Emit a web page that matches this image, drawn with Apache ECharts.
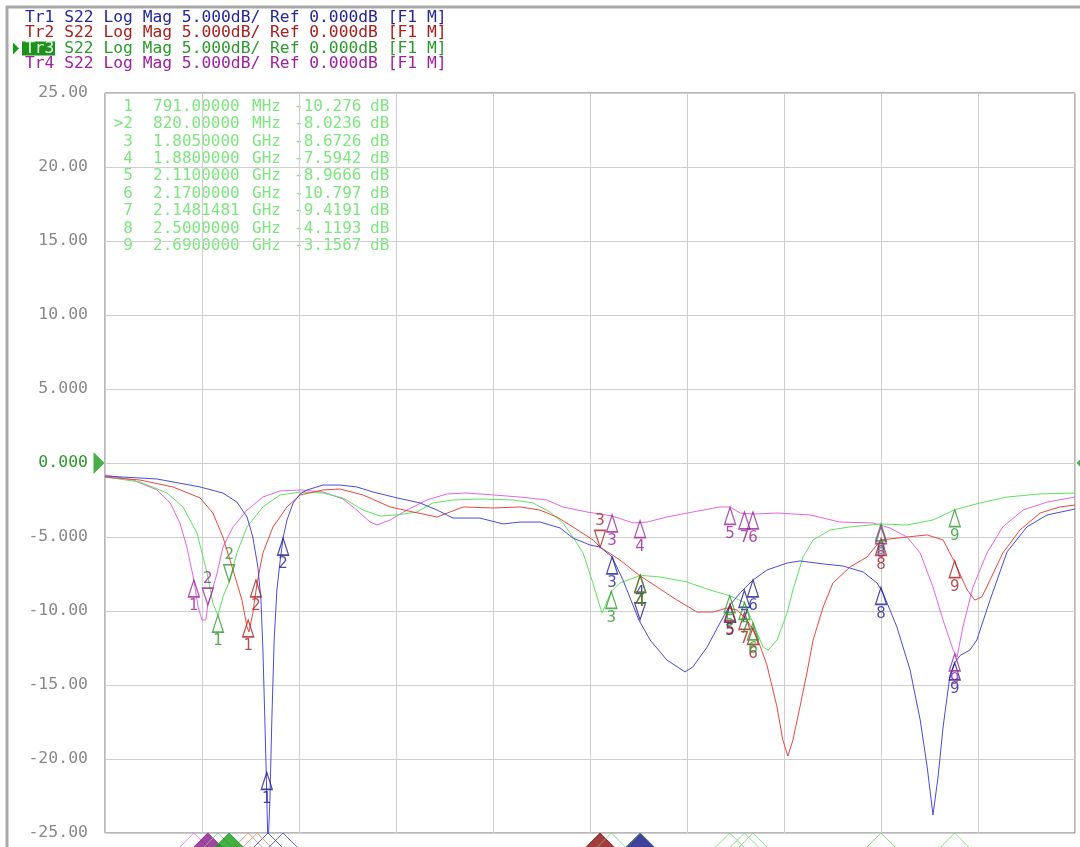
<!DOCTYPE html>
<html><head><meta charset="utf-8">
<script src="https://cdn.jsdelivr.net/npm/echarts@6/dist/echarts.min.js"></script>
<style>html,body{margin:0;padding:0;background:#fff}#c{width:1080px;height:847px}</style>
</head><body><div id="c"></div>
<script>
// ---------- DATA ----------
const yTicks = [-25,-20,-15,-10,-5,0,5,10,15,20,25];
const yTickLabels = ['-25.00','-20.00','-15.00','-10.00','-5.000','0.000','5.000','10.00','15.00','20.00','25.00'];
const headerLines = [
  'Tr1 S22 Log Mag 5.000dB/ Ref 0.000dB [F1 M]',
  'Tr2 S22 Log Mag 5.000dB/ Ref 0.000dB [F1 M]',
  'Tr3 S22 Log Mag 5.000dB/ Ref 0.000dB [F1 M]',
  'Tr4 S22 Log Mag 5.000dB/ Ref 0.000dB [F1 M]'
];
const tableNums  = ['1','>2','3','4','5','6','7','8','9'];
const tableFreqs = ['791.00000','820.00000','1.8050000','1.8800000','2.1100000','2.1700000','2.1481481','2.5000000','2.6900000'];
const tableUnits = ['MHz','MHz','GHz','GHz','GHz','GHz','GHz','GHz','GHz'];
const tableVals  = ['-10.276','-8.0236','-8.6726','-7.5942','-8.9666','-10.797','-9.4191','-4.1193','-3.1567'];

// trace curves [GHz, dB]
const tr1 = [[0.500,-0.88],[0.634,-1.08],[0.745,-1.62],[0.804,-2.03],[0.840,-2.64],[0.866,-3.65],[0.881,-5.00],[0.894,-7.03],[0.902,-9.26],[0.907,-12.64],[0.912,-17.36],[0.916,-21.4],[0.920,-26.0],[0.925,-22.8],[0.930,-17.36],[0.936,-11.96],[0.943,-8.58],[0.951,-6.70],[0.959,-5.07],[0.969,-3.85],[0.985,-2.70],[1.003,-2.09],[1.021,-1.82],[1.062,-1.49],[1.106,-1.49],[1.149,-1.62],[1.191,-1.96],[1.253,-2.36],[1.312,-2.70],[1.356,-3.18],[1.397,-3.72],[1.466,-3.72],[1.526,-4.12],[1.570,-3.99],[1.621,-3.99],[1.673,-4.39],[1.706,-5.07],[1.750,-5.54],[1.776,-5.68],[1.807,-6.35],[1.835,-7.91],[1.876,-10.61],[1.905,-11.96],[1.948,-13.31],[1.995,-14.12],[2.015,-13.78],[2.052,-12.43],[2.085,-10.81],[2.111,-9.59],[2.137,-8.78],[2.170,-7.91],[2.206,-7.23],[2.258,-6.76],[2.291,-6.62],[2.351,-6.82],[2.402,-6.96],[2.454,-7.36],[2.490,-8.11],[2.505,-8.78],[2.541,-11.08],[2.575,-13.99],[2.601,-17.36],[2.619,-20.54],[2.634,-23.78],[2.647,-21.22],[2.660,-17.84],[2.678,-14.30],[2.690,-13.50],[2.704,-13.00],[2.729,-12.64],[2.747,-11.96],[2.781,-9.26],[2.825,-6.00],[2.876,-4.32],[2.928,-3.51],[3.000,-3.11]];
const tr2 = [[0.500,-0.95],[0.590,-1.15],[0.675,-1.62],[0.745,-2.36],[0.778,-3.38],[0.804,-5.00],[0.830,-7.23],[0.853,-9.26],[0.866,-11.08],[0.871,-11.42],[0.881,-10.14],[0.892,-8.11],[0.907,-6.08],[0.933,-4.32],[0.969,-2.97],[1.003,-2.16],[1.062,-1.82],[1.106,-1.76],[1.165,-2.16],[1.235,-2.97],[1.294,-3.31],[1.356,-3.65],[1.389,-3.31],[1.423,-2.97],[1.500,-3.04],[1.570,-2.97],[1.621,-3.18],[1.665,-3.65],[1.706,-4.32],[1.758,-5.20],[1.776,-5.68],[1.827,-6.55],[1.876,-7.57],[1.923,-8.38],[1.974,-9.26],[2.026,-10.07],[2.067,-10.07],[2.103,-9.80],[2.129,-9.93],[2.155,-10.61],[2.180,-11.76],[2.206,-13.65],[2.232,-16.49],[2.247,-18.72],[2.260,-19.80],[2.273,-18.72],[2.291,-16.49],[2.309,-14.19],[2.325,-11.96],[2.351,-9.73],[2.376,-8.11],[2.420,-7.03],[2.464,-6.35],[2.500,-5.20],[2.567,-5.00],[2.619,-4.86],[2.660,-5.20],[2.691,-6.76],[2.722,-8.58],[2.742,-9.26],[2.760,-9.05],[2.781,-7.91],[2.814,-6.08],[2.858,-4.53],[2.910,-3.38],[2.961,-2.97],[3.000,-2.84]];
const tr3 = [[0.500,-0.95],[0.590,-1.28],[0.660,-2.03],[0.701,-2.97],[0.737,-4.73],[0.763,-7.43],[0.778,-9.46],[0.791,-10.28],[0.804,-9.05],[0.820,-8.02],[0.840,-6.08],[0.866,-4.32],[0.907,-2.97],[0.951,-2.16],[1.003,-1.96],[1.062,-2.03],[1.113,-2.36],[1.165,-3.18],[1.209,-3.58],[1.253,-3.51],[1.304,-3.31],[1.345,-2.70],[1.397,-2.50],[1.466,-2.43],[1.552,-2.50],[1.603,-2.70],[1.647,-3.31],[1.680,-4.05],[1.706,-5.00],[1.732,-6.08],[1.755,-7.91],[1.781,-10.14],[1.805,-8.67],[1.827,-8.11],[1.880,-7.59],[1.930,-7.70],[2.000,-8.04],[2.059,-8.58],[2.110,-8.97],[2.148,-9.42],[2.170,-10.80],[2.196,-12.43],[2.209,-12.64],[2.232,-11.96],[2.258,-10.14],[2.273,-8.58],[2.299,-6.35],[2.325,-5.20],[2.369,-4.53],[2.420,-4.32],[2.500,-4.12],[2.567,-4.19],[2.634,-3.85],[2.690,-3.16],[2.755,-2.70],[2.825,-2.30],[2.910,-2.09],[3.000,-2.03]];
const tr4 = [[0.500,-0.81],[0.572,-1.15],[0.634,-1.82],[0.668,-2.70],[0.693,-4.05],[0.711,-5.68],[0.729,-7.91],[0.740,-9.73],[0.750,-10.61],[0.760,-10.61],[0.765,-9.59],[0.771,-9.12],[0.789,-7.43],[0.804,-5.68],[0.830,-4.32],[0.866,-3.18],[0.907,-2.30],[0.951,-1.89],[1.003,-1.82],[1.062,-1.96],[1.113,-2.43],[1.149,-3.18],[1.183,-3.99],[1.201,-4.19],[1.235,-3.85],[1.278,-3.18],[1.330,-2.50],[1.381,-2.09],[1.433,-2.03],[1.500,-2.16],[1.570,-2.30],[1.639,-2.50],[1.680,-2.97],[1.742,-3.31],[1.807,-3.58],[1.861,-4.05],[1.897,-3.99],[1.948,-3.65],[2.015,-3.31],[2.085,-2.97],[2.111,-2.97],[2.137,-3.38],[2.170,-3.45],[2.232,-3.38],[2.317,-3.51],[2.394,-3.99],[2.479,-4.05],[2.523,-4.39],[2.567,-5.00],[2.601,-6.08],[2.634,-8.38],[2.660,-10.61],[2.686,-12.64],[2.696,-13.11],[2.711,-11.08],[2.737,-8.38],[2.773,-6.08],[2.814,-4.32],[2.866,-3.18],[2.928,-2.64],[3.000,-2.30]];

// markers: [GHz, dB, number, active(1 = downward marker)]
const mk1 = [[0.917,-20.9,1,0],[0.959,-5.07,2,0],[1.807,-6.35,3,0],[1.879,-10.6,4,1],[2.111,-9.6,5,0],[2.170,-7.9,6,0],[2.148,-8.6,7,0],[2.500,-8.4,8,0],[2.690,-13.5,9,0]];
const mk2 = [[0.869,-10.6,1,0],[0.889,-7.9,2,0],[1.776,-5.7,3,1],[1.879,-7.6,4,0],[2.111,-9.5,5,0],[2.170,-11.1,6,0],[2.148,-10.1,7,0],[2.500,-5.1,8,0],[2.690,-6.6,9,0]];
const mk3 = [[0.791,-10.276,1,0],[0.820,-8.0236,2,1],[1.805,-8.6726,3,0],[1.880,-7.5942,4,0],[2.110,-8.9666,5,0],[2.170,-10.797,6,0],[2.1481481,-9.4191,7,0],[2.500,-4.1193,8,0],[2.690,-3.1567,9,0]];
const mk4 = [[0.729,-7.9,1,0],[0.765,-9.6,2,1],[1.807,-3.5,3,0],[1.879,-3.9,4,0],[2.111,-3.0,5,0],[2.170,-3.3,6,0],[2.148,-3.3,7,0],[2.500,-4.3,8,0],[2.690,-12.9,9,0]];

// stimulus indicators along bottom edge [GHz, filled]
const stim1 = [[0.920,0],[0.959,0],[1.879,1]];
const stim2 = [[0.869,0],[0.892,0],[1.776,1]];
const stim3 = [[0.791,0],[0.820,1],[1.805,0],[1.880,0],[2.110,0],[2.1481481,0],[2.170,0],[2.500,0],[2.690,0]];
const stim4 = [[0.729,0],[0.765,1]];

// ---------- STYLE ----------
const lineCol = ['#4b4bd6','#e8493e','#5fe35f','#e466e4'];
const mkCol   = ['#1e1e8e','#a82222','#2c9a2c','#992099'];
const hdrCol  = ['#26269c','#aa2020','#2c9a2c','#a020a0'];
const stimOpen = ['#3a3a9a','#e08868','#72d472','#e070e0'];
const stimFill = ['#101085','#8c0c0c','#169a16','#8a168a'];
const MONO = '"DejaVu Sans Mono", "Liberation Mono", monospace';

const UP = 'path://M5,0L10,17L0,17Z';
const DOWN = 'path://M0,0L10,0L5,17Z';

const chart = echarts.init(document.getElementById('c'), null, {renderer:'canvas'});

function markerSeries(mk, i){
  return {
    type:'scatter', z: 5 + i, clip:false, silent:true,
    data: mk.map(m => ({
      value:[m[0], m[1]],
      symbol: m[3] ? DOWN : UP,
      symbolSize:[11,17],
      symbolOffset:[0, m[3] ? -8.5 : 8.5],
      label:{show:true, formatter:String(m[2]), position: m[3] ? 'top' : 'bottom', distance:1,
             color: mkCol[i], fontSize:15, fontFamily:'"DejaVu Sans", sans-serif'}
    })),
    itemStyle:{color:'rgba(255,255,255,0)', borderColor: mkCol[i], borderWidth:1.4}
  };
}
function stimSeries(st, i){
  return {
    type:'scatter', z: 3, clip:false, silent:true,
    data: st.map(s => ({
      value:[s[0], -25],
      symbol:'diamond', symbolSize:[28,28], symbolOffset:[0,14],
      itemStyle: s[1] ? {color: stimFill[i], borderColor: stimFill[i], borderWidth:1}
                      : {color:'rgba(255,255,255,0)', borderColor: stimOpen[i], borderWidth:1}
    }))
  };
}

const traces = [tr1,tr2,tr3,tr4];
const mks = [mk1,mk2,mk3,mk4];
const stims = [stim1,stim2,stim3,stim4];

const series = [];
[3,2,1,0].forEach(i => series.push({
  type:'line', data: traces[i], showSymbol:false, symbol:'none', z:2,
  lineStyle:{color: lineCol[i], width:1}, silent:true, animation:false
}));
[0,1,3,2].forEach(i => series.push(stimSeries(stims[i], i)));
[2,3,1,0].forEach(i => series.push(markerSeries(mks[i], i)));
// reference-level arrows
series.push({type:'scatter', clip:false, silent:true, z:6,
  data:[{value:[0.5,0], symbol:'path://M0,0L11,11L0,22Z', symbolSize:[11,22], symbolOffset:[-6,0]},
        {value:[3.0,0], symbol:'path://M11,0L0,11L11,22Z', symbolSize:[9,18], symbolOffset:[6,0]}],
  itemStyle:{color:'#1a9a1a'}});

// graphic texts
const graphics = [];
graphics.push({type:'polyline', shape:{points:[[7,847],[7,7],[1080,7]]}, style:{stroke:'#a8a8a8', lineWidth:3, fill:null}});
headerLines.forEach((t,i) => {
  const y = 17.5 + i*15.5;
  const f = '16.3px '+MONO;
  if (i === 2) {
    graphics.push({type:'polygon', shape:{points:[[13,y-6],[19,y],[13,y+6]]}, style:{fill:'#1a9a1a'}});
    graphics.push({type:'rect', shape:{x:22, y:y-7, width:33, height:14}, style:{fill:'#1f8f1f'}});
    graphics.push({type:'text', x:25, y:y, style:{text:t.slice(0,3), fill:'#dcffdc', font:f, textVerticalAlign:'middle'}});
    graphics.push({type:'text', x:25+3*9.8, y:y, style:{text:t.slice(3), fill:hdrCol[i], font:f, textVerticalAlign:'middle'}});
  } else {
    graphics.push({type:'text', x:25, y:y, style:{text:t, fill:hdrCol[i], font:f, textVerticalAlign:'middle'}});
  }
});
const tCol = '#7ee67e';
tableNums.forEach((n,i) => {
  const y = 106.5 + i*17.45;
  const f = '16px '+MONO;
  graphics.push({type:'text', x:133, y:y, style:{text:n, fill:tCol, font:f, textAlign:'right', textVerticalAlign:'middle'}});
  graphics.push({type:'text', x:153, y:y, style:{text:tableFreqs[i], fill:tCol, font:f, textVerticalAlign:'middle'}});
  graphics.push({type:'text', x:252, y:y, style:{text:tableUnits[i], fill:tCol, font:f, textVerticalAlign:'middle'}});
  graphics.push({type:'text', x:294, y:y, style:{text:tableVals[i], fill:tCol, font:f, textVerticalAlign:'middle'}});
  graphics.push({type:'text', x:370, y:y, style:{text:'dB', fill:tCol, font:f, textVerticalAlign:'middle'}});
});

chart.setOption({
  animation:false,
  backgroundColor:'#ffffff',
  grid:{left:105, top:93, right:5, bottom:14, show:true, borderColor:'#6e6e6e', borderWidth:1, backgroundColor:'transparent'},
  xAxis:{type:'value', min:0.5, max:3.0, interval:0.25,
    axisLine:{show:false}, axisTick:{show:false}, axisLabel:{show:false},
    splitLine:{show:true, lineStyle:{color:'#cfcfcf', width:1}}},
  yAxis:{type:'value', min:-25, max:25, interval:5,
    axisLine:{show:false}, axisTick:{show:false},
    splitLine:{show:true, lineStyle:{color:'#cfcfcf', width:1}},
    axisLabel:{margin:17, fontSize:16.5, fontFamily:MONO, color:'#8a8a8a',
      formatter: v => { const k = yTicks.indexOf(v); const s = yTickLabels[k]; return v === 0 ? '{g|'+s+'}' : s; },
      rich:{g:{color:'#2c9a2c', fontSize:16.5, fontFamily:MONO}}}},
  series: series,
  graphic: graphics
});
</script></body></html>
